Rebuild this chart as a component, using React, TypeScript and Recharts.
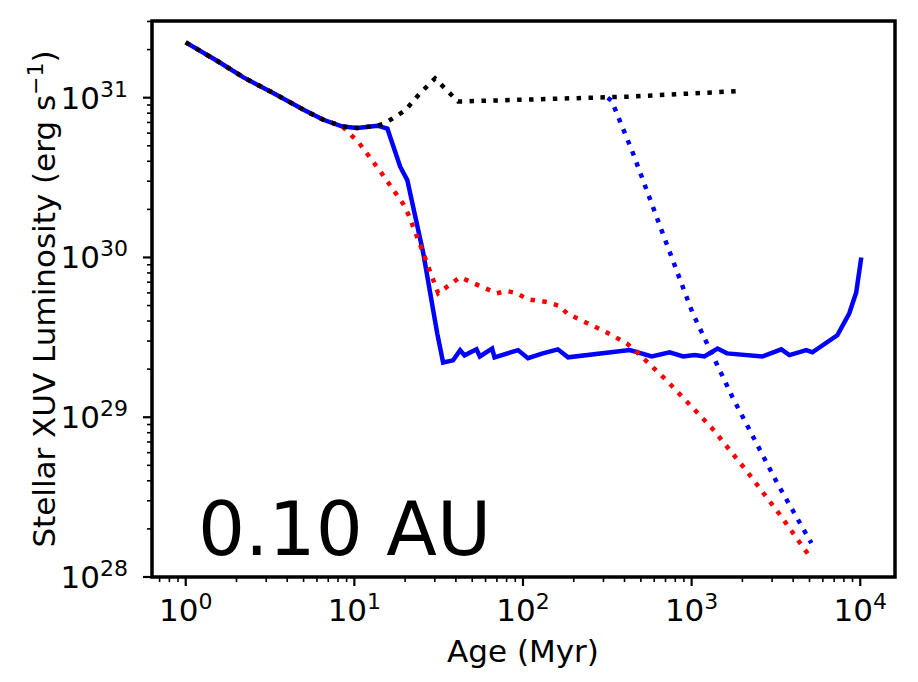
import React from 'react';
import { LineChart, Line, XAxis, YAxis } from 'recharts';

// shared early track (all models agree before ~8 Myr)
const earlyAge = [1, 1.55, 2.2, 3.3, 5.0, 6.5, 8.5];
const earlyLum = [2.22e31, 1.69e31, 1.34e31, 1.07e31, 8.4e30, 7.3e30, 6.6e30];

// solid blue: full evolution
const blueAge = [
  10.4, 13.7, 15.7, 18.7, 20.6, 25.6, 31, 33.6, 38.5, 42.4, 45, 53, 55.5, 65.6, 67.8,
  93.5, 107, 131, 161, 185, 430, 580, 741, 890, 1042, 1190, 1425, 1620, 2630, 3400,
  3800, 4790, 5200, 7310, 8610, 9460, 10140,
];
const blueLum = [
  6.46e30, 6.68e30, 6.4e30, 3.7e30, 3.05e30, 1.07e30, 3.35e29, 2.2e29, 2.27e29, 2.63e29,
  2.44e29, 2.66e29, 2.4e29, 2.69e29, 2.37e29, 2.63e29, 2.34e29, 2.51e29, 2.66e29, 2.37e29,
  2.63e29, 2.4e29, 2.55e29, 2.4e29, 2.45e29, 2.4e29, 2.69e29, 2.51e29, 2.4e29, 2.66e29,
  2.45e29, 2.63e29, 2.55e29, 3.26e29, 4.47e29, 6.03e29, 1.0e30,
];

// dotted red
const redAge = [
  10.6, 13.9, 19.5, 20.9, 25.6, 31.4, 42.4, 54, 70, 80, 92, 106, 141, 166, 182, 314,
  412, 460, 711, 1313, 2115, 3314, 5130,
];
const redLum = [
  5.25e30, 3.59e30, 2.16e30, 1.86e30, 1.07e30, 5.97e29, 7.53e29, 6.71e29, 5.97e29, 6.17e29,
  5.97e29, 5.48e29, 5.25e29, 4.95e29, 4.47e29, 3.39e29, 2.9e29, 2.63e29, 1.7e29, 8.61e28,
  4.62e28, 2.48e28, 1.3e28,
];

// dotted black
const blackAge = [10.4, 13.7, 15.2, 20, 24.6, 30.1, 41.2, 435, 1875];
const blackLum = [6.46e30, 6.68e30, 6.92e30, 8.32e30, 1.07e31, 1.32e31, 9.46e30, 1.016e31, 1.1e31];

// dotted blue (branches off the black track)
const blueDotAge = [318, 336, 448, 673, 1014, 1750, 3230, 5130];
const blueDotLum = [1.0e31, 9.55e30, 4.52e30, 1.42e30, 4.48e29, 1.33e29, 3.84e28, 1.63e28];

const xDecades = [0, 1, 2, 3, 4];
const yDecades = [28, 29, 30, 31];

const xDomain = [0.631, 16070];
const yDomain = [1e28, 3.02e31];

const toPoints = (ages: number[], lums: number[]) => ages.map((age, i) => ({ age, lum: lums[i] }));

const blueSolid = toPoints([...earlyAge, ...blueAge], [...earlyLum, ...blueLum]);
const redDotted = toPoints([...earlyAge, ...redAge], [...earlyLum, ...redLum]);
const blackDotted = toPoints([...earlyAge, ...blackAge], [...earlyLum, ...blackLum]);
const blueDotted = toPoints(blueDotAge, blueDotLum);

const logTicks = (decades: number[], lo: number, hi: number) => {
  const out: number[] = [];
  for (let d = decades[0] - 1; d <= decades[decades.length - 1]; d++) {
    for (let m = 1; m < 10; m++) {
      const v = m * Math.pow(10, d);
      if (v >= lo && v <= hi) out.push(v);
    }
  }
  return out;
};

const xTicks = logTicks(xDecades, xDomain[0], xDomain[1]);
const yTicks = logTicks(yDecades, yDomain[0], yDomain[1]);

const FONT = 'DejaVu Sans';
const expOf = (v: number) => Math.round(Math.log10(v));
const isMajor = (v: number) => Math.abs(Math.log10(v) - expOf(v)) < 1e-6;

const XTick = (props: any) => {
  const { x, y, payload } = props;
  const major = isMajor(payload.value);
  return (
    <g>
      <line x1={x} x2={x} y1={y} y2={y + (major ? 9 : 5)} stroke="#000" strokeWidth={major ? 2.2 : 1.6} />
      {major && (
        <text x={x} y={y + 44} textAnchor="middle" fontSize={31} fontFamily={FONT} fill="#000">
          10<tspan dy={-12} fontSize={22}>{expOf(payload.value)}</tspan>
        </text>
      )}
    </g>
  );
};

const YTick = (props: any) => {
  const { x, y, payload } = props;
  const major = isMajor(payload.value);
  return (
    <g>
      <line x1={x} x2={x - (major ? 9 : 5)} y1={y} y2={y} stroke="#000" strokeWidth={major ? 2.2 : 1.6} />
      {major && (
        <text x={x - 24} y={y + 11} textAnchor="end" fontSize={31} fontFamily={FONT} fill="#000">
          10<tspan dy={-12} fontSize={22}>{expOf(payload.value)}</tspan>
        </text>
      )}
    </g>
  );
};

const W = 910;
const H = 674;
const M = { top: 13, right: 23, bottom: 0, left: 0 };
const Y_W = 144;
const X_H = 105;
const LW = 4.5;
const DOTS = '4.5 7.4';

export default function App() {
  return (
    <div style={{ position: 'relative', width: W, height: H }}>
      <LineChart width={W} height={H} margin={M}>
        <XAxis
          dataKey="age"
          type="number"
          scale="log"
          domain={xDomain}
          allowDataOverflow
          ticks={xTicks}
          interval={0}
          tick={<XTick />}
          tickLine={false}
          tickSize={0}
          tickMargin={0}
          axisLine={false}
          height={X_H}
        />
        <YAxis
          dataKey="lum"
          type="number"
          scale="log"
          domain={yDomain}
          allowDataOverflow
          ticks={yTicks}
          interval={0}
          tick={<YTick />}
          tickLine={false}
          tickSize={0}
          tickMargin={0}
          axisLine={false}
          width={Y_W}
        />
        <Line data={blueSolid} dataKey="lum" stroke="#0000ff" strokeWidth={LW} dot={false} isAnimationActive={false} />
        <Line data={redDotted} dataKey="lum" stroke="#ff0000" strokeWidth={LW} strokeDasharray={DOTS} dot={false} isAnimationActive={false} />
        <Line data={blueDotted} dataKey="lum" stroke="#0000ff" strokeWidth={LW} strokeDasharray={DOTS} dot={false} isAnimationActive={false} />
        <Line data={blackDotted} dataKey="lum" stroke="#000000" strokeWidth={LW} strokeDasharray={DOTS} dot={false} isAnimationActive={false} />
      </LineChart>
      <svg width={W} height={H} style={{ position: 'absolute', left: 0, top: 0, pointerEvents: 'none' }}>
        {/* axes frame */}
        <rect
          x={M.left + Y_W}
          y={M.top}
          width={W - M.left - M.right - Y_W}
          height={H - M.top - M.bottom - X_H}
          fill="none"
          stroke="#000"
          strokeWidth={3.5}
        />
        <text x={190} y={547} fontSize={74} fontFamily={FONT} fill="#000">0.10 AU</text>
        <text x={515} y={654} textAnchor="middle" fontSize={31} fontFamily={FONT} fill="#000">Age (Myr)</text>
        <text
          x={47}
          y={291}
          transform="rotate(-90, 47, 291)"
          textAnchor="middle"
          fontSize={31}
          fontFamily={FONT}
          fill="#000"
        >
          Stellar XUV Luminosity (erg s<tspan dy={-12} fontSize={22}>−1</tspan><tspan dy={12}>)</tspan>
        </text>
      </svg>
    </div>
  );
}
